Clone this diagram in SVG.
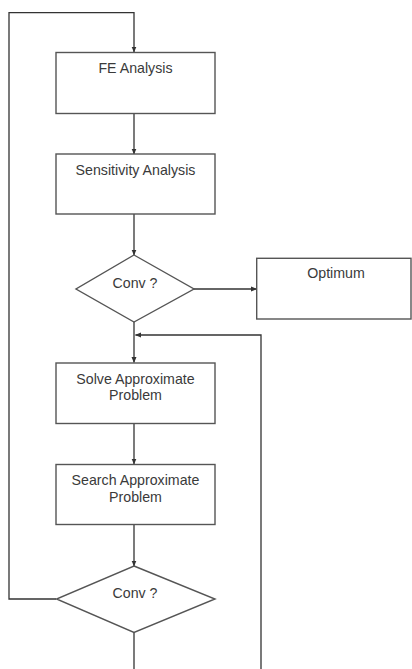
<svg xmlns="http://www.w3.org/2000/svg" width="412" height="669" viewBox="0 0 412 669">
<defs>
<marker id="ah" markerWidth="6" markerHeight="6" refX="5.5" refY="3" orient="auto" markerUnits="userSpaceOnUse">
<path d="M0,0.5 L6,3 L0,5.5 Z" fill="#333"/>
</marker>
<style>
.box{fill:#fff;stroke:#555;stroke-width:1.4}
.ln{fill:none;stroke:#333;stroke-width:1.3}
.t{font-family:"Liberation Sans",Arial,sans-serif;font-size:14.2px;fill:#3a3a3a;text-anchor:middle}
</style>
</defs>
<rect width="412" height="669" fill="#fff"/>
<g id="connectors">
<path class="ln" d="M56,599 H9 V12.7 H134 V52" marker-end="url(#ah)"/>
<path class="ln" d="M134,113.5 V154" marker-end="url(#ah)"/>
<path class="ln" d="M134,214 V255" marker-end="url(#ah)"/>
<path class="ln" d="M194,289 H256.5" marker-end="url(#ah)"/>
<path class="ln" d="M134,322 V362.5" marker-end="url(#ah)"/>
<path class="ln" d="M261,669 V335 H135.5" marker-end="url(#ah)"/>
<path class="ln" d="M134,423.5 V464" marker-end="url(#ah)"/>
<path class="ln" d="M134,524.5 V566" marker-end="url(#ah)"/>
<path class="ln" d="M134,632.5 V669"/>
</g>
<g id="fe">
<rect class="box" x="56" y="52.5" width="159" height="61"/>
<text class="t" x="135.5" y="73">FE Analysis</text>
</g>
<g id="sens">
<rect class="box" x="56" y="154" width="159" height="60"/>
<text class="t" x="135.5" y="175">Sensitivity Analysis</text>
</g>
<g id="conv1">
<polygon class="box" points="134,255 194,289 134,322 76,289"/>
<text class="t" x="135" y="288">Conv ?</text>
</g>
<g id="optimum">
<rect class="box" x="256.7" y="258.3" width="154.3" height="60.7"/>
<text class="t" x="336" y="278">Optimum</text>
</g>
<g id="solve">
<rect class="box" x="56" y="363" width="159" height="60.5"/>
<text class="t" x="135.5" y="384">Solve Approximate</text>
<text class="t" x="135.5" y="400">Problem</text>
</g>
<g id="search">
<rect class="box" x="56" y="464.5" width="159" height="60"/>
<text class="t" x="135.5" y="484.5">Search Approximate</text>
<text class="t" x="135.5" y="501.5">Problem</text>
</g>
<g id="conv2">
<polygon class="box" points="134,566 215,599 134,632.5 56.5,599"/>
<text class="t" x="135" y="598">Conv ?</text>
</g>
</svg>
